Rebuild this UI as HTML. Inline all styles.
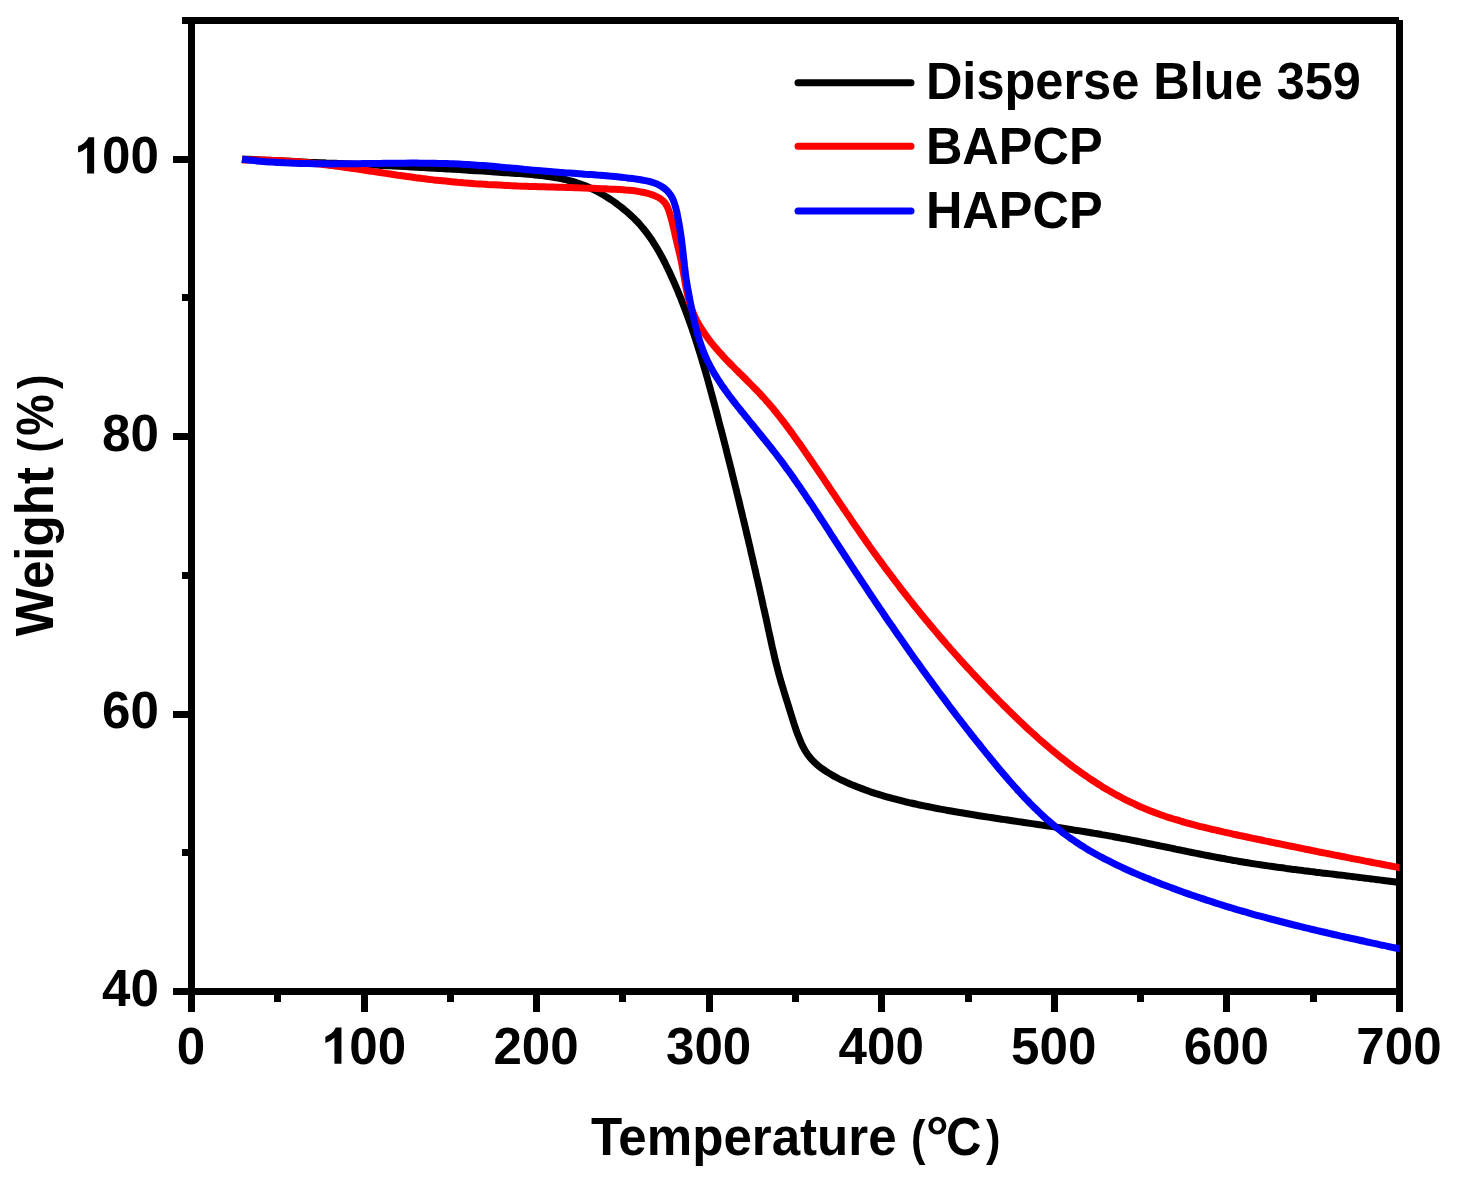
<!DOCTYPE html>
<html><head><meta charset="utf-8"><title>TGA</title>
<style>
html,body{margin:0;padding:0;background:#fff;}
body{width:1457px;height:1192px;overflow:hidden;position:relative;}
svg{position:absolute;left:0;top:0;display:block;}
text{font-family:"Liberation Sans",sans-serif;font-weight:bold;fill:#000;}
</style></head><body>
<svg width="1457" height="1192" viewBox="0 0 1457 1192">
<rect width="1457" height="1192" fill="#fff"/>

<g fill="#000" shape-rendering="crispEdges">
<rect x="182" y="17" width="1217" height="7"/>
<rect x="188" y="17" width="7" height="995"/>
<rect x="1396" y="20" width="7" height="992"/>
<rect x="173" y="988" width="1226.5" height="7"/>
<rect x="188.0" y="991" width="7" height="21.0"/>
<rect x="274.3" y="991" width="7" height="10.5"/>
<rect x="360.6" y="991" width="7" height="21.0"/>
<rect x="446.9" y="991" width="7" height="10.5"/>
<rect x="533.1" y="991" width="7" height="21.0"/>
<rect x="619.4" y="991" width="7" height="10.5"/>
<rect x="705.7" y="991" width="7" height="21.0"/>
<rect x="792.0" y="991" width="7" height="10.5"/>
<rect x="878.3" y="991" width="7" height="21.0"/>
<rect x="964.6" y="991" width="7" height="10.5"/>
<rect x="1050.9" y="991" width="7" height="21.0"/>
<rect x="1137.1" y="991" width="7" height="10.5"/>
<rect x="1223.4" y="991" width="7" height="21.0"/>
<rect x="1309.7" y="991" width="7" height="10.5"/>
<rect x="1396.0" y="991" width="7" height="21.0"/>
<rect x="173.0" y="988.0" width="18.0" height="7"/>
<rect x="182.0" y="849.3" width="9.0" height="7"/>
<rect x="173.0" y="710.6" width="18.0" height="7"/>
<rect x="182.0" y="571.9" width="9.0" height="7"/>
<rect x="173.0" y="433.1" width="18.0" height="7"/>
<rect x="182.0" y="294.4" width="9.0" height="7"/>
<rect x="173.0" y="155.7" width="18.0" height="7"/>
<rect x="182.0" y="17.0" width="9.0" height="7"/>
</g>
<clipPath id="cl"><rect x="0" y="0" width="1399.5" height="1192"/></clipPath>
<g fill="none" stroke-width="7" stroke-linecap="butt" stroke-linejoin="round" clip-path="url(#cl)">
<path stroke="#000" d="M242.1 159.0C243.1 159.1 246.1 159.2 248.1 159.3C250.0 159.4 252.0 159.5 254.0 159.6C256.0 159.7 258.0 159.8 260.1 159.9C262.1 160.0 264.1 160.1 266.1 160.2C268.1 160.3 270.1 160.4 272.1 160.5C274.1 160.6 276.1 160.7 278.1 160.8C280.1 160.9 282.1 161.0 284.1 161.1C286.2 161.2 288.2 161.3 290.2 161.3C292.2 161.4 294.2 161.5 296.2 161.6C298.3 161.7 300.3 161.8 302.3 161.9C304.3 162.0 306.3 162.1 308.3 162.2C310.4 162.2 312.4 162.3 314.4 162.4C316.4 162.5 318.4 162.6 320.5 162.7C322.5 162.8 324.5 162.9 326.5 163.0C328.5 163.0 330.6 163.1 332.6 163.2C334.6 163.3 336.6 163.4 338.6 163.5C340.7 163.6 342.7 163.7 344.7 163.8C346.7 163.9 348.7 163.9 350.8 164.0C352.8 164.1 354.8 164.2 356.8 164.3C358.8 164.4 360.9 164.5 362.9 164.6C364.9 164.7 366.9 164.8 368.9 164.9C371.0 164.9 373.0 165.0 375.0 165.1C377.0 165.2 379.0 165.3 381.0 165.4C383.1 165.5 385.1 165.6 387.1 165.7C389.1 165.8 391.1 165.9 393.1 166.0C395.1 166.1 397.1 166.2 399.2 166.3C401.2 166.4 403.2 166.5 405.2 166.6C407.2 166.7 409.2 166.8 411.2 166.9C413.2 167.0 415.2 167.1 417.2 167.2C419.2 167.3 421.2 167.5 423.2 167.6C425.2 167.7 427.2 167.8 429.2 167.9C431.2 168.0 433.2 168.1 435.2 168.2C437.3 168.3 439.3 168.5 441.3 168.6C443.3 168.7 445.3 168.8 447.3 168.9C449.3 169.0 451.3 169.2 453.3 169.3C455.3 169.4 457.3 169.5 459.3 169.6C461.3 169.8 463.3 169.9 465.3 170.0C467.3 170.1 469.3 170.3 471.3 170.4C473.3 170.5 475.3 170.6 477.3 170.8C479.3 170.9 481.3 171.0 483.3 171.1C485.4 171.3 487.4 171.4 489.4 171.5C491.4 171.7 493.4 171.8 495.4 172.0C497.4 172.1 499.4 172.2 501.5 172.4C503.5 172.5 505.5 172.6 507.5 172.8C509.5 172.9 511.6 173.1 513.6 173.2C515.6 173.4 517.6 173.5 519.7 173.6C521.7 173.8 523.7 173.9 525.7 174.1C527.8 174.3 529.8 174.4 531.8 174.6C533.8 174.8 535.9 175.0 537.9 175.2C539.9 175.4 541.9 175.6 543.9 175.9C545.9 176.1 547.9 176.4 549.9 176.7C551.9 177.0 553.9 177.3 555.9 177.7C557.9 178.0 559.8 178.4 561.8 178.8C563.8 179.2 565.7 179.7 567.6 180.2C569.6 180.6 571.5 181.2 573.4 181.7C575.3 182.3 577.2 182.9 579.1 183.5C581.0 184.2 582.9 184.9 584.7 185.6C586.6 186.4 588.4 187.2 590.2 188.0C592.0 188.8 593.8 189.7 595.6 190.6C597.4 191.5 599.2 192.5 600.9 193.5C602.7 194.5 604.4 195.5 606.1 196.6C607.8 197.7 609.5 198.8 611.2 199.9C612.9 201.0 614.6 202.2 616.2 203.4C617.8 204.6 619.5 205.8 621.1 207.1C622.7 208.3 624.2 209.6 625.8 210.9C627.3 212.2 628.9 213.6 630.4 215.0C631.9 216.3 633.3 217.7 634.8 219.1C636.2 220.6 637.6 222.0 639.0 223.5C640.3 225.0 641.6 226.5 642.9 228.1C644.2 229.6 645.5 231.2 646.7 232.8C647.9 234.4 649.1 236.0 650.2 237.7C651.3 239.3 652.5 241.0 653.5 242.7C654.6 244.3 655.7 246.1 656.7 247.8C657.7 249.5 658.8 251.2 659.7 253.0C660.7 254.8 661.7 256.5 662.6 258.3C663.5 260.1 664.5 261.9 665.4 263.7C666.3 265.5 667.1 267.3 668.0 269.1C668.9 271.0 669.7 272.8 670.6 274.6C671.4 276.5 672.3 278.3 673.1 280.1C673.9 282.0 674.7 283.8 675.5 285.7C676.3 287.5 677.1 289.4 677.9 291.2C678.6 293.1 679.4 295.0 680.2 296.8C680.9 298.7 681.7 300.6 682.4 302.4C683.1 304.3 683.8 306.2 684.6 308.1C685.3 310.0 686.0 311.8 686.7 313.7C687.4 315.6 688.1 317.5 688.7 319.4C689.4 321.3 690.1 323.2 690.8 325.1C691.4 327.0 692.1 328.9 692.7 330.8C693.4 332.7 694.0 334.6 694.6 336.5C695.3 338.4 695.9 340.4 696.5 342.3C697.1 344.2 697.7 346.1 698.3 348.0C698.9 350.0 699.5 351.9 700.1 353.8C700.7 355.7 701.3 357.7 701.9 359.6C702.5 361.5 703.0 363.5 703.6 365.4C704.2 367.3 704.7 369.3 705.3 371.2C705.8 373.1 706.4 375.1 707.0 377.0C707.5 379.0 708.0 380.9 708.6 382.8C709.1 384.8 709.7 386.7 710.2 388.7C710.7 390.6 711.3 392.6 711.8 394.5C712.3 396.5 712.8 398.4 713.4 400.4C713.9 402.3 714.4 404.3 714.9 406.2C715.4 408.2 716.0 410.1 716.5 412.1C717.0 414.0 717.5 416.0 718.0 417.9C718.5 419.9 719.0 421.8 719.5 423.8C720.0 425.7 720.5 427.7 721.1 429.6C721.6 431.6 722.1 433.5 722.6 435.5C723.1 437.4 723.6 439.4 724.1 441.3C724.6 443.3 725.1 445.2 725.6 447.2C726.1 449.1 726.6 451.1 727.0 453.0C727.5 455.0 728.0 456.9 728.5 458.9C729.0 460.8 729.5 462.8 730.0 464.7C730.5 466.7 731.0 468.6 731.5 470.6C731.9 472.5 732.4 474.5 732.9 476.4C733.4 478.4 733.9 480.4 734.4 482.3C734.9 484.3 735.3 486.2 735.8 488.2C736.3 490.1 736.8 492.1 737.2 494.0C737.7 496.0 738.2 497.9 738.7 499.9C739.2 501.9 739.6 503.8 740.1 505.8C740.6 507.7 741.0 509.7 741.5 511.6C742.0 513.6 742.5 515.5 742.9 517.5C743.4 519.5 743.9 521.4 744.3 523.4C744.8 525.3 745.3 527.3 745.7 529.2C746.2 531.2 746.6 533.2 747.1 535.1C747.6 537.1 748.0 539.0 748.5 541.0C748.9 543.0 749.4 544.9 749.9 546.9C750.3 548.8 750.8 550.8 751.2 552.8C751.7 554.7 752.1 556.7 752.6 558.6C753.0 560.6 753.5 562.6 753.9 564.5C754.4 566.5 754.8 568.5 755.3 570.4C755.7 572.4 756.2 574.4 756.6 576.3C757.1 578.3 757.5 580.2 758.0 582.2C758.4 584.2 758.9 586.1 759.3 588.1C759.7 590.1 760.2 592.0 760.6 594.0C761.1 596.0 761.5 597.9 761.9 599.9C762.4 601.9 762.8 603.9 763.2 605.8C763.7 607.8 764.1 609.8 764.6 611.7C765.0 613.7 765.4 615.7 765.9 617.6C766.3 619.6 766.7 621.6 767.2 623.6C767.6 625.5 768.0 627.5 768.4 629.5C768.9 631.5 769.3 633.4 769.7 635.4C770.2 637.4 770.6 639.4 771.0 641.3C771.4 643.3 771.9 645.3 772.3 647.3C772.8 649.2 773.2 651.2 773.7 653.2C774.1 655.1 774.6 657.1 775.0 659.1C775.5 661.0 776.0 663.0 776.5 664.9C777.0 666.9 777.5 668.8 778.0 670.8C778.5 672.7 779.0 674.7 779.6 676.6C780.1 678.5 780.7 680.5 781.2 682.4C781.8 684.3 782.4 686.3 783.0 688.2C783.5 690.1 784.1 692.0 784.7 693.9C785.3 695.9 785.9 697.8 786.5 699.7C787.1 701.6 787.7 703.5 788.3 705.4C788.9 707.4 789.5 709.3 790.1 711.2C790.7 713.1 791.3 715.0 791.9 717.0C792.5 718.9 793.1 720.8 793.7 722.7C794.3 724.6 795.0 726.6 795.6 728.5C796.3 730.4 796.9 732.3 797.6 734.2C798.4 736.1 799.1 738.0 799.9 739.8C800.6 741.7 801.5 743.6 802.3 745.4C803.2 747.2 804.2 749.0 805.2 750.7C806.2 752.4 807.3 754.1 808.5 755.7C809.7 757.3 811.0 758.9 812.4 760.3C813.7 761.8 815.2 763.1 816.7 764.4C818.2 765.8 819.8 767.0 821.4 768.2C823.1 769.4 824.7 770.5 826.4 771.6C828.1 772.7 829.9 773.8 831.6 774.8C833.4 775.8 835.1 776.8 836.9 777.7C838.7 778.7 840.5 779.6 842.4 780.4C844.2 781.3 846.0 782.1 847.9 783.0C849.7 783.8 851.6 784.6 853.4 785.4C855.3 786.1 857.2 786.9 859.0 787.6C860.9 788.4 862.8 789.1 864.7 789.7C866.6 790.4 868.5 791.1 870.4 791.8C872.3 792.4 874.2 793.0 876.1 793.7C878.0 794.3 879.9 794.9 881.8 795.4C883.7 796.0 885.7 796.6 887.6 797.1C889.5 797.7 891.5 798.2 893.4 798.7C895.4 799.2 897.3 799.7 899.3 800.2C901.2 800.7 903.2 801.2 905.1 801.7C907.1 802.1 909.0 802.6 911.0 803.0C913.0 803.5 914.9 803.9 916.9 804.3C918.9 804.8 920.8 805.2 922.8 805.6C924.8 806.0 926.8 806.4 928.7 806.8C930.7 807.2 932.7 807.6 934.7 808.0C936.6 808.3 938.6 808.7 940.6 809.1C942.6 809.4 944.6 809.8 946.5 810.2C948.5 810.5 950.5 810.9 952.5 811.2C954.5 811.6 956.5 811.9 958.4 812.3C960.4 812.6 962.4 813.0 964.4 813.3C966.4 813.6 968.4 814.0 970.4 814.3C972.3 814.6 974.3 814.9 976.3 815.2C978.3 815.6 980.3 815.9 982.3 816.2C984.3 816.5 986.3 816.8 988.3 817.1C990.3 817.4 992.2 817.7 994.2 818.0C996.2 818.3 998.2 818.7 1000.2 819.0C1002.2 819.3 1004.2 819.5 1006.2 819.8C1008.2 820.1 1010.2 820.4 1012.2 820.7C1014.2 821.0 1016.2 821.3 1018.2 821.6C1020.2 821.9 1022.1 822.2 1024.1 822.5C1026.1 822.8 1028.1 823.1 1030.1 823.4C1032.1 823.7 1034.1 824.0 1036.1 824.2C1038.1 824.5 1040.1 824.8 1042.1 825.1C1044.1 825.4 1046.1 825.7 1048.1 826.0C1050.1 826.3 1052.1 826.6 1054.0 826.9C1056.0 827.2 1058.0 827.5 1060.0 827.8C1062.0 828.1 1064.0 828.4 1066.0 828.7C1068.0 829.0 1070.0 829.3 1072.0 829.6C1074.0 830.0 1076.0 830.3 1077.9 830.6C1079.9 830.9 1081.9 831.2 1083.9 831.5C1085.9 831.9 1087.9 832.2 1089.9 832.5C1091.9 832.9 1093.9 833.2 1095.8 833.5C1097.8 833.9 1099.8 834.2 1101.8 834.6C1103.8 834.9 1105.8 835.3 1107.7 835.6C1109.7 836.0 1111.7 836.3 1113.7 836.7C1115.7 837.1 1117.7 837.4 1119.6 837.8C1121.6 838.2 1123.6 838.6 1125.6 838.9C1127.5 839.3 1129.5 839.7 1131.5 840.1C1133.5 840.5 1135.5 840.9 1137.4 841.3C1139.4 841.7 1141.4 842.1 1143.4 842.5C1145.3 842.9 1147.3 843.3 1149.3 843.7C1151.3 844.1 1153.2 844.5 1155.2 844.9C1157.2 845.3 1159.1 845.7 1161.1 846.1C1163.1 846.5 1165.1 846.9 1167.0 847.3C1169.0 847.7 1171.0 848.1 1173.0 848.5C1174.9 848.9 1176.9 849.4 1178.9 849.8C1180.9 850.2 1182.8 850.6 1184.8 851.0C1186.8 851.4 1188.7 851.8 1190.7 852.2C1192.7 852.6 1194.7 853.0 1196.6 853.4C1198.6 853.8 1200.6 854.2 1202.6 854.6C1204.5 855.0 1206.5 855.3 1208.5 855.7C1210.5 856.1 1212.5 856.5 1214.4 856.9C1216.4 857.3 1218.4 857.6 1220.4 858.0C1222.4 858.4 1224.3 858.7 1226.3 859.1C1228.3 859.5 1230.3 859.8 1232.3 860.2C1234.2 860.5 1236.2 860.9 1238.2 861.2C1240.2 861.5 1242.2 861.9 1244.2 862.2C1246.2 862.5 1248.2 862.8 1250.1 863.2C1252.1 863.5 1254.1 863.8 1256.1 864.1C1258.1 864.4 1260.1 864.7 1262.1 865.0C1264.1 865.3 1266.1 865.6 1268.1 865.9C1270.1 866.2 1272.1 866.4 1274.1 866.7C1276.0 867.0 1278.0 867.3 1280.0 867.6C1282.0 867.8 1284.0 868.1 1286.0 868.4C1288.0 868.6 1290.0 868.9 1292.0 869.2C1294.0 869.4 1296.0 869.7 1298.0 869.9C1300.0 870.2 1302.0 870.4 1304.0 870.7C1306.0 870.9 1308.0 871.2 1310.0 871.4C1312.0 871.7 1314.0 871.9 1316.0 872.2C1318.0 872.4 1320.0 872.7 1322.0 872.9C1324.0 873.1 1326.0 873.4 1328.0 873.6C1330.0 873.9 1332.0 874.1 1334.0 874.3C1336.0 874.6 1338.1 874.8 1340.1 875.1C1342.1 875.3 1344.1 875.5 1346.1 875.8C1348.1 876.0 1350.1 876.3 1352.1 876.5C1354.1 876.7 1356.1 877.0 1358.1 877.2C1360.1 877.5 1362.1 877.7 1364.1 878.0C1366.1 878.2 1368.1 878.5 1370.1 878.7C1372.1 879.0 1374.1 879.2 1376.1 879.5C1378.1 879.7 1380.1 880.0 1382.0 880.2C1384.0 880.5 1386.0 880.8 1388.0 881.0C1390.0 881.3 1392.0 881.6 1394.0 881.8C1396.0 882.1 1398.0 882.4 1400.0 882.7C1402.0 882.9 1405.0 883.4 1406.0 883.5"/>
<path stroke="#f00" d="M242.0 160.1C243.0 160.1 246.0 160.0 248.0 159.9C250.0 159.9 252.1 159.8 254.1 159.8C256.1 159.8 258.1 159.8 260.1 159.9C262.1 159.9 264.1 159.9 266.1 160.0C268.2 160.0 270.2 160.1 272.2 160.2C274.2 160.2 276.2 160.3 278.2 160.4C280.2 160.5 282.2 160.6 284.2 160.8C286.2 160.9 288.2 161.0 290.2 161.2C292.2 161.3 294.2 161.5 296.2 161.6C298.2 161.8 300.2 162.0 302.2 162.2C304.2 162.4 306.2 162.6 308.2 162.8C310.2 163.0 312.2 163.2 314.2 163.4C316.2 163.6 318.2 163.9 320.2 164.1C322.2 164.3 324.2 164.6 326.2 164.8C328.2 165.1 330.1 165.3 332.1 165.6C334.1 165.9 336.1 166.1 338.1 166.4C340.1 166.7 342.1 166.9 344.1 167.2C346.1 167.5 348.1 167.8 350.1 168.1C352.0 168.4 354.0 168.6 356.0 168.9C358.0 169.2 360.0 169.5 362.0 169.8C364.0 170.1 366.0 170.4 368.0 170.7C369.9 171.0 371.9 171.3 373.9 171.6C375.9 171.9 377.9 172.2 379.9 172.5C381.9 172.8 383.9 173.1 385.8 173.4C387.8 173.7 389.8 174.0 391.8 174.3C393.8 174.6 395.8 174.9 397.8 175.2C399.8 175.4 401.8 175.7 403.7 176.0C405.7 176.3 407.7 176.6 409.7 176.8C411.7 177.1 413.7 177.4 415.7 177.7C417.7 177.9 419.7 178.2 421.7 178.4C423.7 178.7 425.6 178.9 427.6 179.2C429.6 179.4 431.6 179.6 433.6 179.9C435.6 180.1 437.6 180.3 439.6 180.5C441.6 180.7 443.6 180.9 445.6 181.1C447.6 181.3 449.6 181.5 451.6 181.7C453.6 181.9 455.6 182.1 457.6 182.3C459.6 182.4 461.6 182.6 463.6 182.8C465.6 182.9 467.6 183.1 469.6 183.2C471.6 183.4 473.6 183.5 475.6 183.7C477.6 183.8 479.6 183.9 481.6 184.1C483.6 184.2 485.6 184.3 487.6 184.5C489.6 184.6 491.6 184.7 493.6 184.8C495.6 184.9 497.6 185.0 499.6 185.1C501.6 185.2 503.6 185.3 505.6 185.4C507.6 185.5 509.6 185.6 511.6 185.7C513.6 185.8 515.6 185.9 517.7 186.0C519.7 186.0 521.7 186.1 523.7 186.2C525.7 186.3 527.7 186.3 529.7 186.4C531.7 186.5 533.7 186.5 535.7 186.6C537.7 186.7 539.7 186.7 541.8 186.8C543.8 186.8 545.8 186.9 547.8 186.9C549.8 187.0 551.8 187.1 553.8 187.1C555.8 187.2 557.8 187.2 559.8 187.3C561.8 187.3 563.9 187.4 565.9 187.4C567.9 187.5 569.9 187.5 571.9 187.6C573.9 187.7 575.9 187.7 577.9 187.8C579.9 187.8 581.9 187.9 583.9 188.0C585.9 188.0 588.0 188.1 590.0 188.2C592.0 188.3 594.0 188.3 596.0 188.4C598.0 188.5 600.0 188.6 602.0 188.7C604.0 188.8 606.0 188.9 608.0 189.0C610.0 189.1 612.0 189.2 614.0 189.3C616.0 189.4 618.0 189.5 620.0 189.6C622.0 189.8 624.0 189.9 626.0 190.1C628.0 190.2 630.0 190.4 632.0 190.6C634.0 190.8 636.0 191.1 637.9 191.4C639.9 191.7 641.9 192.1 643.9 192.5C645.9 192.9 647.8 193.4 649.8 194.0C651.7 194.6 653.7 195.2 655.6 196.1C657.4 196.9 659.3 197.8 660.8 199.0C662.4 200.2 663.9 201.5 665.1 203.1C666.3 204.7 667.2 206.5 668.0 208.3C668.8 210.1 669.3 212.1 669.9 214.0C670.5 216.0 671.1 217.9 671.6 219.9C672.1 221.8 672.6 223.8 673.0 225.7C673.5 227.7 674.0 229.7 674.4 231.6C674.8 233.6 675.3 235.6 675.7 237.5C676.2 239.5 676.6 241.4 677.1 243.4C677.5 245.3 678.0 247.2 678.5 249.2C679.0 251.1 679.4 253.0 679.9 255.0C680.3 256.9 680.8 258.9 681.2 260.8C681.6 262.8 682.0 264.8 682.3 266.8C682.7 268.8 683.1 270.8 683.4 272.7C683.8 274.7 684.1 276.7 684.5 278.7C684.8 280.7 685.2 282.7 685.5 284.7C685.9 286.7 686.3 288.7 686.7 290.7C687.1 292.7 687.5 294.6 688.0 296.6C688.5 298.5 689.0 300.4 689.5 302.3C690.1 304.2 690.7 306.1 691.3 308.0C692.0 309.8 692.7 311.7 693.4 313.5C694.2 315.3 695.0 317.1 695.9 318.8C696.7 320.6 697.7 322.3 698.6 324.0C699.6 325.7 700.6 327.4 701.6 329.1C702.7 330.7 703.8 332.4 704.9 334.0C706.0 335.6 707.2 337.2 708.4 338.8C709.6 340.4 710.8 342.0 712.1 343.6C713.3 345.1 714.6 346.7 715.9 348.2C717.3 349.7 718.6 351.3 720.0 352.8C721.3 354.3 722.7 355.8 724.1 357.3C725.5 358.8 726.9 360.3 728.3 361.7C729.8 363.2 731.2 364.7 732.6 366.1C734.1 367.6 735.5 369.1 737.0 370.5C738.5 372.0 739.9 373.4 741.4 374.9C742.9 376.3 744.3 377.8 745.8 379.3C747.2 380.7 748.7 382.2 750.1 383.6C751.6 385.1 753.0 386.5 754.4 388.0C755.9 389.5 757.3 390.9 758.7 392.4C760.1 393.9 761.5 395.4 762.8 396.9C764.2 398.3 765.5 399.8 766.8 401.4C768.2 402.9 769.5 404.4 770.8 405.9C772.0 407.4 773.3 408.9 774.6 410.5C775.8 412.0 777.1 413.6 778.3 415.1C779.6 416.7 780.8 418.2 782.0 419.8C783.2 421.3 784.4 422.9 785.6 424.5C786.8 426.0 787.9 427.6 789.1 429.2C790.3 430.8 791.4 432.4 792.6 434.0C793.8 435.6 794.9 437.2 796.0 438.8C797.2 440.4 798.3 442.0 799.5 443.6C800.6 445.2 801.7 446.8 802.9 448.5C804.0 450.1 805.1 451.7 806.2 453.4C807.4 455.0 808.5 456.6 809.6 458.3C810.7 459.9 811.8 461.5 813.0 463.2C814.1 464.8 815.2 466.5 816.3 468.1C817.4 469.8 818.6 471.4 819.7 473.1C820.8 474.8 821.9 476.4 823.1 478.1C824.2 479.8 825.3 481.4 826.4 483.1C827.5 484.7 828.7 486.4 829.8 488.1C830.9 489.8 832.0 491.4 833.1 493.1C834.3 494.8 835.4 496.4 836.5 498.1C837.6 499.8 838.8 501.5 839.9 503.1C841.0 504.8 842.2 506.5 843.3 508.2C844.4 509.8 845.6 511.5 846.7 513.2C847.8 514.8 849.0 516.5 850.1 518.2C851.2 519.9 852.4 521.5 853.5 523.2C854.7 524.9 855.8 526.5 857.0 528.2C858.1 529.9 859.2 531.5 860.4 533.2C861.6 534.8 862.7 536.5 863.9 538.1C865.0 539.8 866.2 541.5 867.3 543.1C868.5 544.8 869.7 546.4 870.8 548.0C872.0 549.7 873.2 551.3 874.4 553.0C875.5 554.6 876.7 556.2 877.9 557.9C879.1 559.5 880.3 561.1 881.5 562.7C882.7 564.4 883.9 566.0 885.0 567.6C886.2 569.2 887.4 570.8 888.6 572.4C889.9 574.0 891.1 575.6 892.3 577.2C893.5 578.8 894.7 580.4 895.9 582.0C897.1 583.6 898.4 585.2 899.6 586.8C900.8 588.4 902.0 590.0 903.3 591.6C904.5 593.2 905.7 594.7 907.0 596.3C908.2 597.9 909.4 599.5 910.7 601.0C911.9 602.6 913.2 604.2 914.4 605.7C915.7 607.3 916.9 608.9 918.2 610.4C919.5 612.0 920.7 613.5 922.0 615.1C923.3 616.6 924.5 618.2 925.8 619.7C927.1 621.3 928.4 622.8 929.6 624.3C930.9 625.9 932.2 627.4 933.5 628.9C934.8 630.5 936.1 632.0 937.4 633.5C938.7 635.1 940.0 636.6 941.3 638.1C942.6 639.6 943.9 641.1 945.2 642.6C946.5 644.2 947.8 645.7 949.2 647.2C950.5 648.7 951.8 650.2 953.1 651.7C954.5 653.2 955.8 654.7 957.1 656.2C958.5 657.7 959.8 659.2 961.1 660.6C962.5 662.1 963.8 663.6 965.2 665.1C966.5 666.6 967.9 668.1 969.3 669.5C970.6 671.0 972.0 672.5 973.3 674.0C974.7 675.4 976.1 676.9 977.5 678.4C978.8 679.8 980.2 681.3 981.6 682.7C983.0 684.2 984.4 685.6 985.7 687.1C987.1 688.5 988.5 690.0 989.9 691.4C991.3 692.9 992.7 694.3 994.1 695.8C995.5 697.2 997.0 698.6 998.4 700.1C999.8 701.5 1001.2 702.9 1002.6 704.4C1004.1 705.8 1005.5 707.2 1006.9 708.6C1008.3 710.1 1009.8 711.5 1011.2 712.9C1012.7 714.3 1014.1 715.7 1015.6 717.1C1017.0 718.5 1018.5 719.9 1019.9 721.3C1021.4 722.7 1022.9 724.1 1024.3 725.5C1025.8 726.9 1027.3 728.2 1028.8 729.6C1030.2 731.0 1031.7 732.3 1033.2 733.7C1034.7 735.0 1036.2 736.4 1037.7 737.7C1039.2 739.1 1040.7 740.4 1042.2 741.7C1043.8 743.1 1045.3 744.4 1046.8 745.7C1048.3 747.0 1049.9 748.3 1051.4 749.6C1053.0 750.9 1054.5 752.2 1056.1 753.4C1057.6 754.7 1059.2 756.0 1060.7 757.2C1062.3 758.5 1063.9 759.7 1065.5 760.9C1067.0 762.2 1068.6 763.4 1070.2 764.6C1071.8 765.8 1073.4 767.0 1075.0 768.2C1076.6 769.4 1078.3 770.6 1079.9 771.7C1081.5 772.9 1083.1 774.0 1084.8 775.2C1086.4 776.3 1088.1 777.4 1089.7 778.6C1091.4 779.7 1093.0 780.8 1094.7 781.8C1096.4 782.9 1098.1 784.0 1099.7 785.1C1101.4 786.1 1103.1 787.2 1104.8 788.2C1106.5 789.2 1108.3 790.2 1110.0 791.2C1111.7 792.2 1113.4 793.2 1115.2 794.2C1116.9 795.1 1118.7 796.1 1120.4 797.0C1122.2 798.0 1123.9 798.9 1125.7 799.8C1127.5 800.7 1129.3 801.5 1131.1 802.4C1132.9 803.3 1134.7 804.1 1136.5 805.0C1138.3 805.8 1140.1 806.6 1142.0 807.4C1143.8 808.2 1145.6 809.0 1147.5 809.7C1149.3 810.5 1151.2 811.2 1153.1 811.9C1155.0 812.6 1156.8 813.3 1158.7 814.0C1160.6 814.7 1162.5 815.4 1164.4 816.0C1166.3 816.7 1168.3 817.3 1170.2 817.9C1172.1 818.5 1174.0 819.2 1176.0 819.7C1177.9 820.3 1179.8 820.9 1181.8 821.5C1183.7 822.0 1185.7 822.6 1187.6 823.1C1189.6 823.7 1191.6 824.2 1193.5 824.7C1195.5 825.2 1197.5 825.8 1199.4 826.3C1201.4 826.8 1203.4 827.2 1205.3 827.7C1207.3 828.2 1209.3 828.7 1211.3 829.2C1213.3 829.6 1215.3 830.1 1217.2 830.5C1219.2 831.0 1221.2 831.4 1223.2 831.9C1225.2 832.3 1227.2 832.8 1229.1 833.2C1231.1 833.6 1233.1 834.1 1235.1 834.5C1237.1 834.9 1239.0 835.3 1241.0 835.8C1243.0 836.2 1245.0 836.6 1246.9 837.0C1248.9 837.5 1250.9 837.9 1252.8 838.3C1254.8 838.7 1256.8 839.1 1258.7 839.5C1260.7 839.9 1262.7 840.4 1264.6 840.8C1266.6 841.2 1268.5 841.6 1270.5 842.0C1272.5 842.4 1274.4 842.8 1276.4 843.2C1278.3 843.6 1280.3 844.0 1282.2 844.4C1284.2 844.8 1286.1 845.2 1288.1 845.6C1290.1 846.0 1292.0 846.4 1294.0 846.8C1295.9 847.2 1297.9 847.6 1299.8 848.0C1301.8 848.4 1303.7 848.8 1305.7 849.2C1307.6 849.6 1309.6 850.0 1311.5 850.4C1313.5 850.8 1315.4 851.2 1317.4 851.6C1319.3 852.0 1321.3 852.4 1323.2 852.8C1325.2 853.1 1327.1 853.5 1329.1 853.9C1331.0 854.3 1333.0 854.7 1334.9 855.1C1336.9 855.5 1338.8 855.9 1340.8 856.2C1342.8 856.6 1344.7 857.0 1346.7 857.4C1348.6 857.8 1350.6 858.2 1352.6 858.6C1354.5 858.9 1356.5 859.3 1358.4 859.7C1360.4 860.1 1362.4 860.5 1364.4 860.9C1366.3 861.2 1368.3 861.6 1370.3 862.0C1372.2 862.4 1374.2 862.8 1376.2 863.1C1378.2 863.5 1380.2 863.9 1382.1 864.3C1384.1 864.7 1386.1 865.1 1388.1 865.4C1390.1 865.8 1392.1 866.2 1394.1 866.6C1396.1 867.0 1398.1 867.4 1400.1 867.7C1402.1 868.1 1405.1 868.7 1406.1 868.9"/>
<path stroke="#00f" d="M242.0 159.2C243.0 159.4 246.0 159.7 248.0 160.0C250.0 160.2 252.0 160.4 254.0 160.6C256.0 160.8 258.1 161.0 260.1 161.2C262.1 161.3 264.1 161.5 266.1 161.7C268.1 161.8 270.1 162.0 272.1 162.1C274.1 162.2 276.1 162.4 278.1 162.5C280.1 162.6 282.1 162.7 284.2 162.8C286.2 162.9 288.2 163.0 290.2 163.1C292.2 163.2 294.2 163.3 296.2 163.3C298.2 163.4 300.2 163.4 302.2 163.5C304.2 163.6 306.3 163.6 308.3 163.6C310.3 163.7 312.3 163.7 314.3 163.7C316.3 163.8 318.3 163.8 320.3 163.8C322.3 163.8 324.3 163.8 326.4 163.8C328.4 163.9 330.4 163.9 332.4 163.9C334.4 163.9 336.4 163.8 338.4 163.8C340.4 163.8 342.4 163.8 344.5 163.8C346.5 163.8 348.5 163.8 350.5 163.8C352.5 163.7 354.5 163.7 356.5 163.7C358.5 163.7 360.6 163.6 362.6 163.6C364.6 163.6 366.6 163.6 368.6 163.5C370.6 163.5 372.6 163.5 374.6 163.5C376.6 163.4 378.7 163.4 380.7 163.4C382.7 163.4 384.7 163.3 386.7 163.3C388.7 163.3 390.7 163.3 392.7 163.2C394.8 163.2 396.8 163.2 398.8 163.2C400.8 163.2 402.8 163.2 404.8 163.2C406.8 163.1 408.8 163.1 410.8 163.1C412.9 163.1 414.9 163.1 416.9 163.1C418.9 163.1 420.9 163.2 422.9 163.2C424.9 163.2 426.9 163.2 428.9 163.2C430.9 163.3 433.0 163.3 435.0 163.3C437.0 163.4 439.0 163.4 441.0 163.5C443.0 163.5 445.0 163.6 447.0 163.6C449.0 163.7 451.0 163.8 453.0 163.8C455.1 163.9 457.1 164.0 459.1 164.1C461.1 164.2 463.1 164.3 465.1 164.4C467.1 164.5 469.1 164.7 471.1 164.8C473.1 164.9 475.1 165.1 477.1 165.2C479.1 165.3 481.2 165.5 483.2 165.6C485.2 165.8 487.2 166.0 489.2 166.1C491.2 166.3 493.2 166.5 495.2 166.6C497.2 166.8 499.2 167.0 501.2 167.2C503.2 167.4 505.2 167.5 507.2 167.7C509.2 167.9 511.2 168.1 513.2 168.3C515.3 168.5 517.3 168.7 519.3 168.8C521.3 169.0 523.3 169.2 525.3 169.4C527.3 169.6 529.3 169.8 531.3 170.0C533.3 170.1 535.3 170.3 537.3 170.5C539.3 170.7 541.3 170.9 543.3 171.0C545.3 171.2 547.3 171.4 549.4 171.5C551.4 171.7 553.4 171.8 555.4 172.0C557.4 172.2 559.4 172.3 561.4 172.4C563.4 172.6 565.4 172.7 567.4 172.9C569.4 173.0 571.4 173.2 573.4 173.3C575.4 173.5 577.4 173.6 579.4 173.7C581.4 173.9 583.4 174.0 585.4 174.2C587.4 174.3 589.4 174.5 591.4 174.6C593.4 174.8 595.4 174.9 597.4 175.1C599.4 175.2 601.4 175.4 603.4 175.5C605.4 175.7 607.4 175.9 609.4 176.1C611.4 176.2 613.4 176.4 615.3 176.6C617.3 176.8 619.3 177.0 621.3 177.2C623.3 177.4 625.3 177.6 627.2 177.9C629.2 178.1 631.2 178.4 633.2 178.6C635.2 178.9 637.2 179.2 639.2 179.5C641.3 179.8 643.3 180.2 645.3 180.6C647.4 181.0 649.4 181.5 651.4 182.0C653.4 182.6 655.3 183.3 657.2 184.1C659.0 185.0 660.8 185.9 662.5 187.0C664.1 188.1 665.7 189.3 667.1 190.7C668.4 192.0 669.6 193.6 670.7 195.2C671.7 196.8 672.6 198.6 673.4 200.4C674.1 202.2 674.7 204.2 675.3 206.1C675.9 208.1 676.4 210.1 676.8 212.1C677.3 214.1 677.6 216.2 678.0 218.2C678.4 220.2 678.8 222.2 679.1 224.2C679.5 226.2 679.8 228.2 680.1 230.1C680.4 232.1 680.7 234.1 681.0 236.1C681.3 238.1 681.5 240.0 681.8 242.0C682.0 244.0 682.3 246.0 682.5 248.0C682.7 249.9 683.0 251.9 683.2 253.9C683.4 255.9 683.6 257.9 683.9 259.9C684.1 261.9 684.3 263.9 684.5 265.9C684.8 267.9 685.0 269.9 685.2 272.0C685.5 274.0 685.8 276.0 686.0 278.0C686.3 279.9 686.6 281.9 687.0 283.9C687.3 285.9 687.6 287.9 688.0 289.8C688.4 291.8 688.7 293.8 689.1 295.8C689.5 297.7 689.8 299.7 690.2 301.7C690.6 303.7 691.0 305.6 691.4 307.6C691.8 309.6 692.2 311.6 692.6 313.5C693.1 315.5 693.5 317.5 693.9 319.4C694.4 321.4 694.8 323.4 695.3 325.3C695.8 327.3 696.3 329.2 696.8 331.2C697.4 333.1 697.9 335.0 698.5 337.0C699.1 338.9 699.7 340.8 700.3 342.7C700.9 344.6 701.6 346.5 702.3 348.4C703.0 350.2 703.7 352.1 704.4 354.0C705.2 355.8 706.0 357.6 706.8 359.4C707.7 361.3 708.6 363.0 709.5 364.8C710.4 366.6 711.3 368.4 712.3 370.1C713.3 371.8 714.3 373.6 715.4 375.3C716.4 377.0 717.5 378.7 718.6 380.4C719.7 382.1 720.8 383.7 721.9 385.4C723.1 387.1 724.3 388.7 725.4 390.4C726.6 392.0 727.8 393.6 729.0 395.3C730.2 396.9 731.5 398.5 732.7 400.1C733.9 401.7 735.2 403.3 736.4 404.9C737.7 406.5 738.9 408.1 740.2 409.6C741.4 411.2 742.7 412.8 744.0 414.3C745.2 415.9 746.5 417.5 747.8 419.0C749.0 420.6 750.3 422.2 751.6 423.7C752.9 425.3 754.1 426.8 755.4 428.4C756.7 430.0 757.9 431.5 759.2 433.1C760.5 434.6 761.8 436.2 763.0 437.7C764.3 439.3 765.5 440.9 766.8 442.4C768.1 444.0 769.3 445.6 770.6 447.1C771.8 448.7 773.0 450.3 774.3 451.9C775.5 453.4 776.7 455.0 777.9 456.6C779.2 458.2 780.4 459.8 781.6 461.4C782.8 463.0 784.0 464.7 785.1 466.3C786.3 467.9 787.5 469.5 788.7 471.1C789.9 472.8 791.0 474.4 792.2 476.0C793.3 477.7 794.5 479.3 795.6 481.0C796.8 482.6 797.9 484.3 799.1 485.9C800.2 487.6 801.4 489.2 802.5 490.9C803.6 492.5 804.7 494.2 805.9 495.9C807.0 497.5 808.1 499.2 809.2 500.9C810.3 502.5 811.5 504.2 812.6 505.9C813.7 507.6 814.8 509.3 815.9 510.9C817.0 512.6 818.1 514.3 819.2 516.0C820.3 517.7 821.4 519.4 822.5 521.0C823.6 522.7 824.7 524.4 825.8 526.1C826.9 527.8 828.0 529.5 829.1 531.2C830.1 532.9 831.2 534.6 832.3 536.3C833.4 537.9 834.5 539.6 835.6 541.3C836.7 543.0 837.8 544.7 838.9 546.4C840.0 548.1 841.1 549.8 842.2 551.5C843.3 553.1 844.4 554.8 845.5 556.5C846.6 558.2 847.7 559.9 848.8 561.6C849.9 563.3 851.0 564.9 852.1 566.6C853.2 568.3 854.3 570.0 855.4 571.7C856.5 573.3 857.6 575.0 858.7 576.7C859.8 578.4 860.9 580.1 862.0 581.7C863.1 583.4 864.2 585.1 865.4 586.8C866.5 588.4 867.6 590.1 868.7 591.8C869.8 593.5 870.9 595.1 872.0 596.8C873.2 598.5 874.3 600.1 875.4 601.8C876.5 603.5 877.7 605.1 878.8 606.8C879.9 608.5 881.0 610.1 882.2 611.8C883.3 613.5 884.4 615.1 885.5 616.8C886.7 618.4 887.8 620.1 888.9 621.8C890.1 623.4 891.2 625.1 892.4 626.7C893.5 628.4 894.6 630.0 895.8 631.7C896.9 633.3 898.1 635.0 899.2 636.6C900.4 638.3 901.5 639.9 902.7 641.6C903.8 643.2 905.0 644.9 906.1 646.5C907.3 648.2 908.4 649.8 909.6 651.5C910.7 653.1 911.9 654.7 913.1 656.4C914.2 658.0 915.4 659.7 916.6 661.3C917.7 662.9 918.9 664.6 920.1 666.2C921.2 667.8 922.4 669.5 923.6 671.1C924.8 672.7 925.9 674.3 927.1 676.0C928.3 677.6 929.5 679.2 930.7 680.8C931.9 682.5 933.1 684.1 934.2 685.7C935.4 687.3 936.6 688.9 937.8 690.6C939.0 692.2 940.2 693.8 941.4 695.4C942.6 697.0 943.8 698.6 945.0 700.2C946.2 701.8 947.4 703.4 948.6 705.1C949.9 706.7 951.1 708.3 952.3 709.9C953.5 711.5 954.7 713.1 955.9 714.7C957.2 716.3 958.4 717.9 959.6 719.4C960.8 721.0 962.1 722.6 963.3 724.2C964.5 725.8 965.8 727.4 967.0 729.0C968.3 730.6 969.5 732.2 970.7 733.7C972.0 735.3 973.2 736.9 974.5 738.5C975.7 740.1 977.0 741.6 978.3 743.2C979.5 744.8 980.8 746.4 982.0 747.9C983.3 749.5 984.6 751.1 985.8 752.6C987.1 754.2 988.4 755.8 989.7 757.3C990.9 758.9 992.2 760.4 993.5 762.0C994.8 763.5 996.1 765.1 997.4 766.7C998.6 768.2 999.9 769.8 1001.2 771.3C1002.5 772.8 1003.8 774.4 1005.2 775.9C1006.5 777.4 1007.8 779.0 1009.1 780.5C1010.4 782.0 1011.8 783.5 1013.1 785.0C1014.4 786.5 1015.8 788.0 1017.1 789.5C1018.5 791.0 1019.8 792.5 1021.2 794.0C1022.6 795.4 1023.9 796.9 1025.3 798.4C1026.7 799.8 1028.1 801.3 1029.5 802.7C1030.9 804.1 1032.3 805.6 1033.7 807.0C1035.1 808.4 1036.6 809.8 1038.0 811.2C1039.5 812.5 1040.9 813.9 1042.4 815.3C1043.8 816.6 1045.3 818.0 1046.8 819.3C1048.3 820.6 1049.8 821.9 1051.3 823.2C1052.8 824.5 1054.3 825.8 1055.9 827.1C1057.4 828.3 1059.0 829.6 1060.6 830.8C1062.1 832.1 1063.7 833.3 1065.3 834.5C1066.9 835.7 1068.5 836.8 1070.1 838.0C1071.8 839.1 1073.4 840.3 1075.1 841.4C1076.7 842.5 1078.4 843.6 1080.1 844.7C1081.8 845.8 1083.5 846.8 1085.2 847.9C1086.9 848.9 1088.6 850.0 1090.3 851.0C1092.1 852.0 1093.8 853.0 1095.6 854.0C1097.3 855.0 1099.1 855.9 1100.9 856.9C1102.7 857.8 1104.4 858.8 1106.2 859.7C1108.0 860.6 1109.8 861.5 1111.7 862.4C1113.5 863.3 1115.3 864.2 1117.1 865.1C1118.9 866.0 1120.8 866.8 1122.6 867.7C1124.4 868.5 1126.3 869.4 1128.1 870.2C1130.0 871.0 1131.8 871.9 1133.7 872.7C1135.6 873.5 1137.4 874.3 1139.3 875.1C1141.2 875.9 1143.0 876.6 1144.9 877.4C1146.8 878.2 1148.7 878.9 1150.5 879.7C1152.4 880.5 1154.3 881.2 1156.2 882.0C1158.0 882.7 1159.9 883.4 1161.8 884.2C1163.7 884.9 1165.6 885.6 1167.5 886.3C1169.3 887.0 1171.2 887.7 1173.1 888.4C1175.0 889.1 1176.9 889.8 1178.8 890.5C1180.7 891.2 1182.6 891.9 1184.5 892.6C1186.4 893.2 1188.3 893.9 1190.2 894.6C1192.1 895.2 1194.0 895.9 1195.9 896.5C1197.8 897.2 1199.7 897.8 1201.6 898.4C1203.5 899.1 1205.4 899.7 1207.3 900.3C1209.2 901.0 1211.1 901.6 1213.0 902.2C1214.9 902.8 1216.9 903.4 1218.8 904.0C1220.7 904.6 1222.6 905.2 1224.5 905.8C1226.4 906.4 1228.3 907.0 1230.3 907.5C1232.2 908.1 1234.1 908.7 1236.0 909.3C1237.9 909.8 1239.9 910.4 1241.8 911.0C1243.7 911.5 1245.6 912.1 1247.6 912.6C1249.5 913.2 1251.4 913.7 1253.4 914.3C1255.3 914.8 1257.2 915.3 1259.2 915.9C1261.1 916.4 1263.0 916.9 1265.0 917.4C1266.9 918.0 1268.8 918.5 1270.8 919.0C1272.7 919.5 1274.6 920.0 1276.6 920.5C1278.5 921.0 1280.5 921.5 1282.4 922.0C1284.4 922.5 1286.3 923.0 1288.2 923.5C1290.2 924.0 1292.1 924.5 1294.1 925.0C1296.0 925.5 1298.0 926.0 1299.9 926.4C1301.9 926.9 1303.8 927.4 1305.8 927.9C1307.7 928.3 1309.7 928.8 1311.6 929.3C1313.6 929.7 1315.5 930.2 1317.5 930.7C1319.4 931.1 1321.4 931.6 1323.4 932.0C1325.3 932.5 1327.3 933.0 1329.2 933.4C1331.2 933.9 1333.2 934.3 1335.1 934.8C1337.1 935.2 1339.0 935.7 1341.0 936.1C1343.0 936.5 1344.9 937.0 1346.9 937.4C1348.9 937.9 1350.8 938.3 1352.8 938.7C1354.8 939.2 1356.7 939.6 1358.7 940.0C1360.7 940.5 1362.6 940.9 1364.6 941.3C1366.6 941.8 1368.5 942.2 1370.5 942.6C1372.5 943.1 1374.5 943.5 1376.4 943.9C1378.4 944.3 1380.4 944.8 1382.4 945.2C1384.3 945.6 1386.3 946.0 1388.3 946.5C1390.3 946.9 1392.2 947.3 1394.2 947.7C1396.2 948.1 1398.2 948.6 1400.1 949.0C1402.1 949.4 1405.1 950.0 1406.1 950.3"/>
</g>
<g fill="none" stroke-width="7" stroke-linecap="round">
<path stroke="#000" d="M798 82.8H911"/>
<path stroke="#f00" d="M798 146.3H911"/>
<path stroke="#00f" d="M798 211.0H911"/>
</g>
<g font-size="50.50" opacity="0.999">
<text transform="translate(925.9 99.3) scale(1 1.042)" text-anchor="start">Disperse Blue 359</text>
<text transform="translate(925.9 164.1) scale(1 1.042)" text-anchor="start">BAPCP</text>
<text transform="translate(925.9 227.8) scale(1 1.042)" text-anchor="start">HAPCP</text>
<text transform="translate(176.7 1063.7) scale(1 1.008)" text-anchor="start" font-size="51.1">0</text>
<path d="M806 0H525V1059Q371 915 162 846V1101Q272 1137 401 1237.5Q530 1338 578 1472H806Z" transform="translate(321.34 1063.70) scale(0.02495 -0.02458)"/>
<text transform="translate(349.3 1063.7) scale(1 1.008)" text-anchor="start" font-size="51.1">00</text>
<text transform="translate(493.4 1063.7) scale(1 1.008)" text-anchor="start" font-size="51.1">200</text>
<text transform="translate(666.0 1063.7) scale(1 1.008)" text-anchor="start" font-size="51.1">300</text>
<text transform="translate(838.6 1063.7) scale(1 1.008)" text-anchor="start" font-size="51.1">400</text>
<text transform="translate(1011.1 1063.7) scale(1 1.008)" text-anchor="start" font-size="51.1">500</text>
<text transform="translate(1183.7 1063.7) scale(1 1.008)" text-anchor="start" font-size="51.1">600</text>
<text transform="translate(1356.3 1063.7) scale(1 1.008)" text-anchor="start" font-size="51.1">700</text>
<text transform="translate(102.0 1005.7) scale(1 1.008)" text-anchor="start" font-size="51.1">40</text>
<text transform="translate(102.0 728.3) scale(1 1.008)" text-anchor="start" font-size="51.1">60</text>
<text transform="translate(102.0 450.8) scale(1 1.008)" text-anchor="start" font-size="51.1">80</text>
<path d="M806 0H525V1059Q371 915 162 846V1101Q272 1137 401 1237.5Q530 1338 578 1472H806Z" transform="translate(74.04 173.41) scale(0.02495 -0.02458)"/>
<text transform="translate(102.0 173.4) scale(1 1.008)" text-anchor="start" font-size="51.1">00</text>
<text transform="translate(590.90 1155.40) scale(1.000 1.035)" font-size="51.1">Temperature</text>
<text transform="translate(910.90 1155.40) scale(0.850 0.975)" font-size="51.1">(</text>
<path fill-rule="evenodd" d="M928.3 1125.7a9.05 8.85 0 1 0 18.1 0a9.05 8.85 0 1 0 -18.1 0zM932.85 1125.7a4.5 5.15 0 1 0 9 0a4.5 5.15 0 1 0 -9 0z"/>
<text transform="translate(946.10 1155.40) scale(0.960 1.035)" font-size="51.1">C</text>
<text transform="translate(985.96 1155.40) scale(0.850 0.975)" font-size="51.1">)</text>
<text transform="translate(53.40 636.35) rotate(-90) scale(1.000 1.035)" font-size="51.1">Weight</text>
<text transform="translate(53.40 452.80) rotate(-90) scale(0.850 0.975)" font-size="51.1">(</text>
<text transform="translate(53.40 435.76) rotate(-90) scale(0.911 1.010)" font-size="51.1">%</text>
<text transform="translate(53.40 388.90) rotate(-90) scale(0.850 0.975)" font-size="51.1">)</text>
</g>
</svg></body></html>
